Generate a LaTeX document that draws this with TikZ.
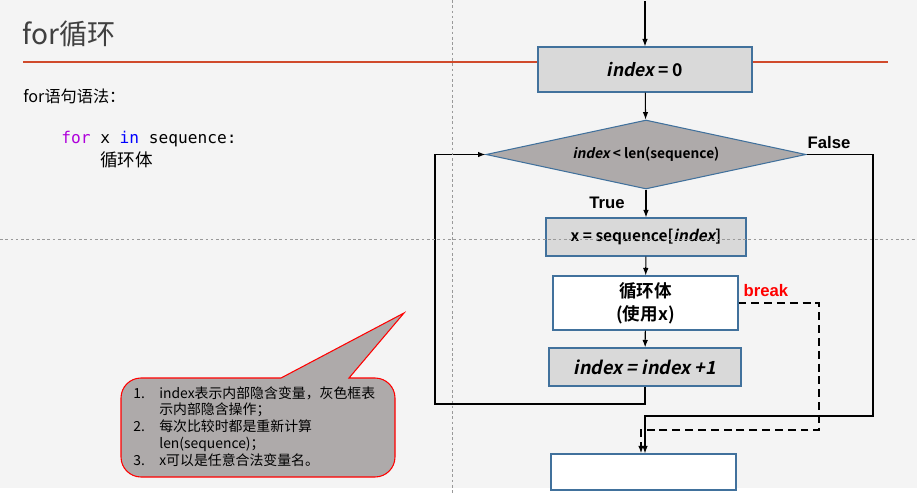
\documentclass[tikz,border=0pt]{standalone}
\usepackage{fontspec}
\setmainfont{Noto Sans CJK SC}[ItalicFont={Noto Sans CJK SC}, ItalicFeatures={FakeSlant=0.2}, BoldFont={Noto Sans CJK SC Bold}, BoldItalicFont={Noto Sans CJK SC Bold}, BoldItalicFeatures={FakeSlant=0.2}]
\setmonofont{DejaVu Sans Mono}
\newfontfamily\arialfont{Liberation Sans}
\usepackage{tikz}
\usetikzlibrary{arrows.meta,calc,shapes.geometric}
\definecolor{bgcol}{HTML}{F4F4F4}
\definecolor{boxgray}{HTML}{D9D9D9}
\definecolor{diagray}{HTML}{AEAAAA}
\definecolor{boxblue}{HTML}{41719C}
\definecolor{titlered}{HTML}{D04A2B}
\definecolor{titlegray}{HTML}{404040}
\definecolor{kwpurple}{HTML}{AF00DB}
\definecolor{kwblue}{HTML}{0000FF}

\begin{document}
\begin{tikzpicture}[x=0.02cm,y=-0.02cm]
	\path [use as bounding box] (0,0) rectangle (917,494);
	\tikzstyle{box} = [draw=boxblue, line width=0.6pt, fill=boxgray, inner sep=0pt, font=\fontsize{10pt}{13pt}\selectfont\bfseries, align=center]
	\tikzstyle{flow} = [draw=black, line width=0.6pt, -{Latex[length=1.5mm,width=1.1mm]}]
	\tikzstyle{brk} = [flow, line width=1.1pt, dash pattern=on 4.5pt off 2.8pt]
	\tikzstyle{lbl} = [inner sep=0pt, font=\arialfont\bfseries\fontsize{9.5pt}{11pt}\selectfont]
	\tikzstyle{guide} = [draw=black!40, line width=0.5pt, dash pattern=on 1.5pt off 1.5pt]
	\fill[bgcol] (0,0) rectangle (917,488);
	% left side text
	\node[anchor=west, inner sep=0pt, text=titlegray, font=\fontsize{16pt}{18pt}\selectfont] (title) at (22,34) {for循环};
	\draw[titlered, line width=1.1pt] (23,62) -- (888,62);
	\node[anchor=west, inner sep=0pt, font=\fontsize{9.2pt}{10pt}\selectfont] (syntax) at (23,96) {for语句语法：};
	\node[anchor=west, inner sep=0pt, font=\ttfamily\fontsize{9.2pt}{11pt}\selectfont] (code) at (61,139) {\textcolor{kwpurple}{for} x \textcolor{kwblue}{in} sequence:};
	\node[anchor=west, inner sep=0pt, font=\fontsize{10pt}{11pt}\selectfont] (codebody) at (100,160) {循环体};
	% flow chart
	\coordinate (start) at (645,1);
	\node[box, minimum width=4.28cm, minimum height=0.9cm] (init) at (645,69.5) {\textit{index} = 0};
	\node[box, diamond, fill=diagray, aspect=4.64, minimum width=6.4cm, minimum height=1.38cm, font=\fontsize{7.8pt}{9pt}\selectfont\bfseries] (cond) at (646,154.5) {\textit{index} < len(sequence)};
	\node[box, minimum width=4cm, minimum height=0.76cm, font=\fontsize{8.8pt}{10pt}\selectfont\bfseries] (assign) at (646,237) {x = sequence[\textit{index}]};
	\node[box, fill=white, minimum width=3.7cm, minimum height=1.08cm] (body) at (645.5,303) {循环体\\(使用x)};
	\node[box, minimum width=3.84cm, minimum height=0.76cm, font=\fontsize{10.3pt}{11pt}\selectfont\bfseries\itshape] (incr) at (645,367) {index = index +1};
	\node[box, fill=white, minimum width=3.7cm, minimum height=0.72cm] (after) at (643.5,472) {};
	\coordinate (loopL) at (435,404);
	\coordinate (falseR) at (873,416);
	\coordinate (brkR) at (819,430);
	\draw[flow] (start) -- (init);
	\draw[flow] (init) -- (cond);
	\draw[flow] (cond) -- (assign);
	\draw[flow] (assign) -- (body);
	\draw[flow] (body) -- (incr);
	\draw[flow] (incr.south) |- (loopL) |- (cond.west);
	\draw[flow] (cond.east) -| (falseR) -| ([xshift=0.03cm]after.north);
	\draw[brk] (body.east) -| (brkR) -| ([xshift=-0.05cm]after.north);
	\node[lbl] (falselbl) at (829,143) {False};
	\node[lbl] (truelbl) at (607,203) {True};
	\node[lbl, text=red] (brklbl) at (766,291) {break};
	% callout
	\draw[draw=red, line width=0.6pt, fill=diagray] (281,378) -- (404,313) -- (349,378) [rounded corners=0.4cm] -- (395,378) -- (395,477) -- (121,477) -- (121,378) [sharp corners] -- cycle;
	\node[anchor=north west, inner sep=0pt, font=\fontsize{7.9pt}{9.5pt}\selectfont] (notes) at (133,386) {\begin{tabular}{@{}p{0.52cm}@{}l@{}}
		1. & index表示内部隐含变量，灰色框表\\
		 & 示内部隐含操作；\\
		2. & 每次比较时都是重新计算\\
		 & len(sequence)；\\
		3. & x可以是任意合法变量名。
	\end{tabular}};
	% guides
	\draw[guide] (452,0) -- (452,494);
	\draw[guide] (0,239) -- (917,239);
\end{tikzpicture}
\end{document}
